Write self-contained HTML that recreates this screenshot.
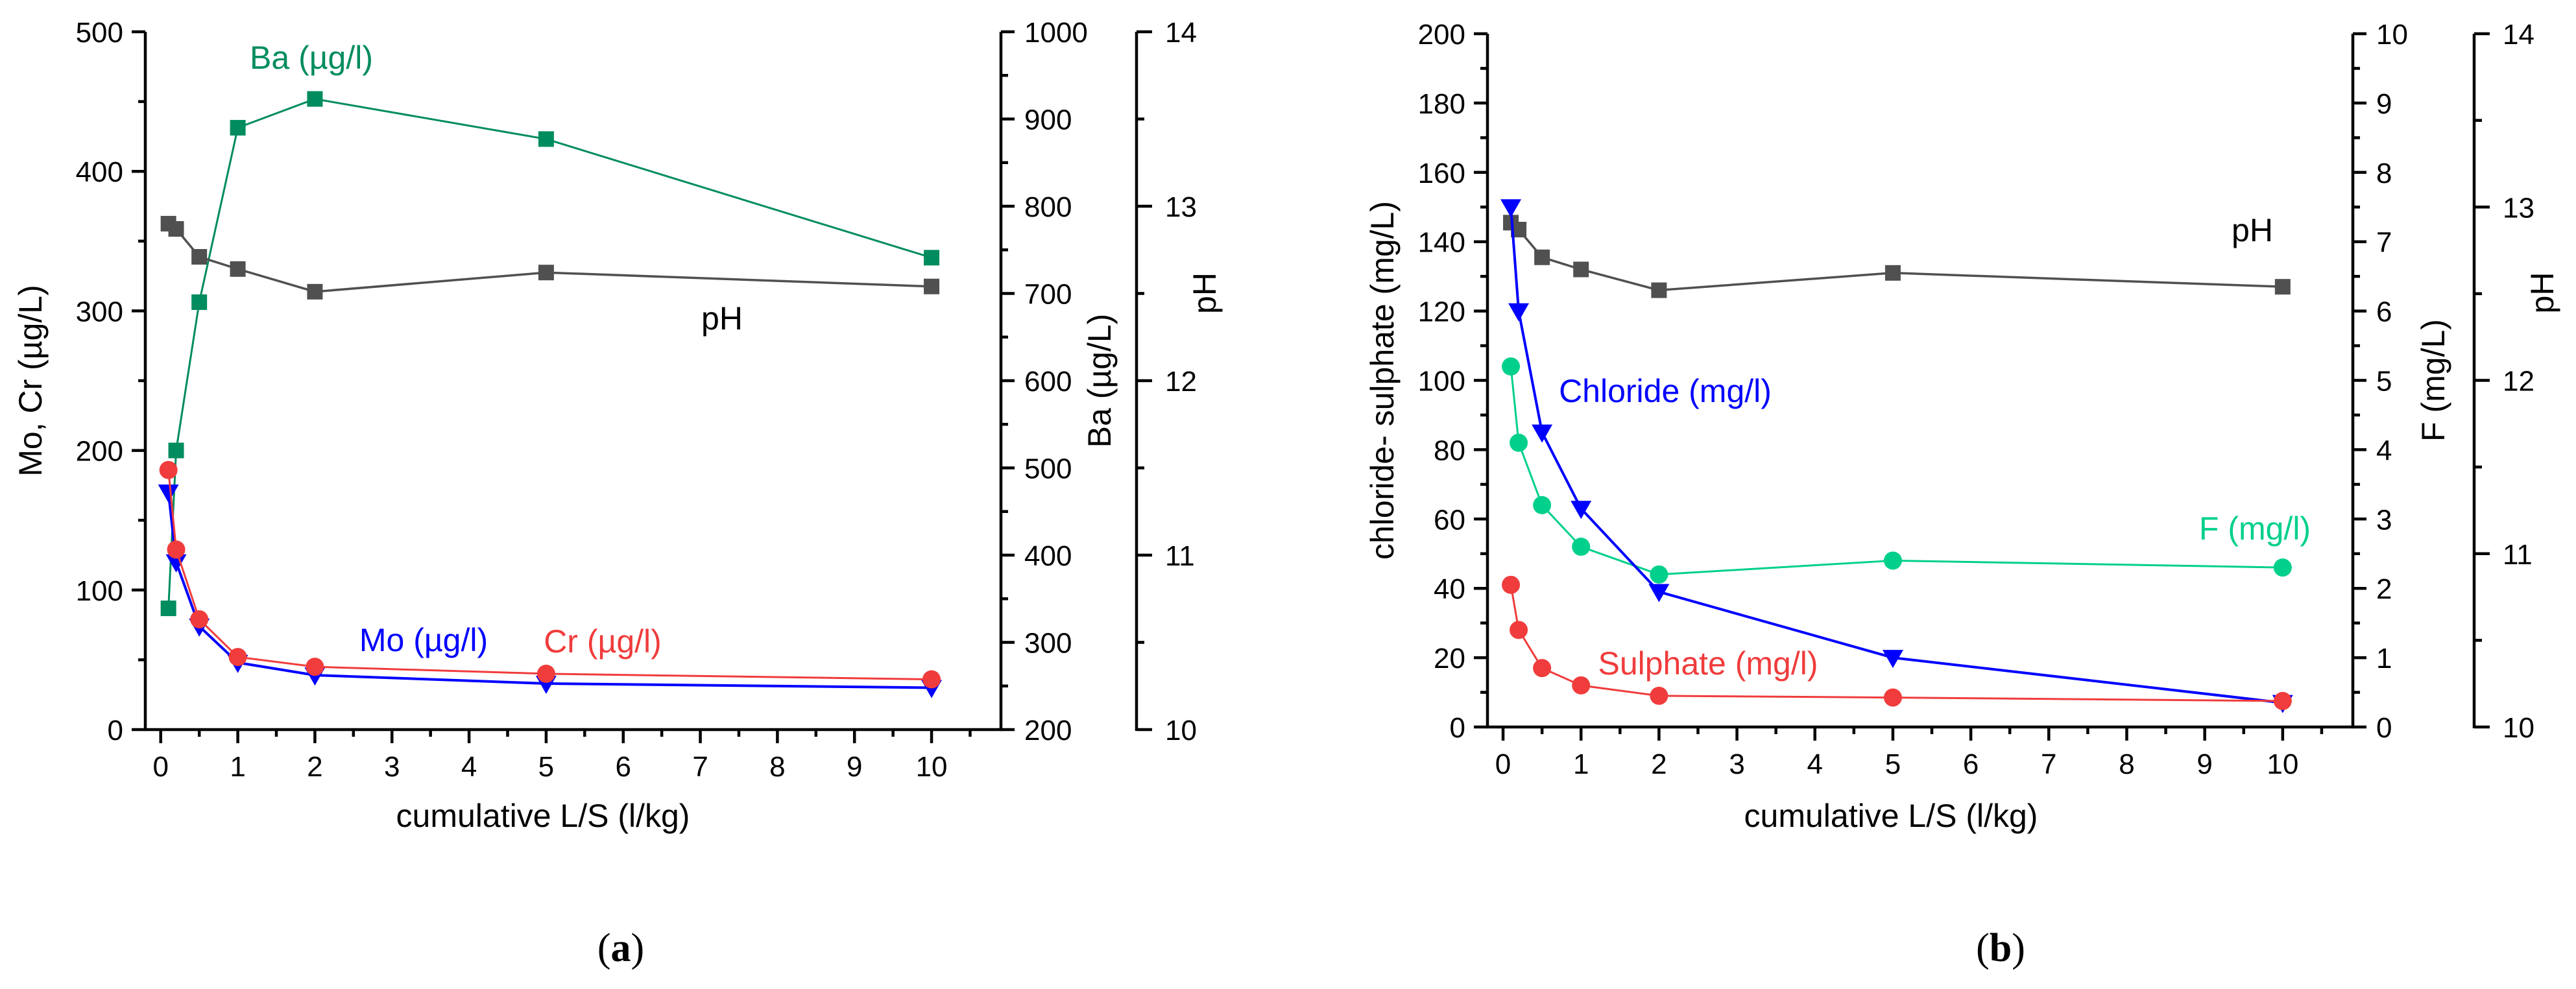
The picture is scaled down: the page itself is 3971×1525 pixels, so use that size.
<!DOCTYPE html>
<html><head><meta charset="utf-8"><style>
html,body{margin:0;padding:0;background:#fff;}
svg{display:block;font-family:"Liberation Sans",Arial,sans-serif;}
</style></head><body>
<svg id="chart" width="3971" height="1525" viewBox="0 0 3971 1525" xmlns="http://www.w3.org/2000/svg"></svg>
<script>
const lsValues = [0.1, 0.2, 0.5, 1, 2, 5, 10];
const xTickLabels = ["0","1","2","3","4","5","6","7","8","9","10"];
// panel a
const moValues = [170, 120, 74, 48, 39, 33, 30];
const crValues = [186, 129, 79, 52, 45, 40, 36];
const baValues = [339, 520, 690, 890, 923, 877, 741];
const phAValues = [12.90, 12.87, 12.71, 12.64, 12.51, 12.62, 12.54];
const leftATicks = ["0","100","200","300","400","500"];
const baTicks = ["200","300","400","500","600","700","800","900","1000"];
const phTicks = ["10","11","12","13","14"];
// panel b
const chlorideValues = [150, 120, 85, 63, 39, 20, 7];
const sulphateValues = [41, 28, 17, 12, 9, 8.5, 7.5];
const fValues = [5.2, 4.1, 3.2, 2.6, 2.2, 2.4, 2.3];
const phBValues = [12.91, 12.87, 12.71, 12.64, 12.52, 12.62, 12.54];
const leftBTicks = ["0","20","40","60","80","100","120","140","160","180","200"];
const fTicks = ["0","1","2","3","4","5","6","7","8","9","10"];

const svg = document.getElementById('chart');
const NS = 'http://www.w3.org/2000/svg';
function el(tag, attrs, parent) {
  const e = document.createElementNS(NS, tag);
  for (const k in attrs) e.setAttribute(k, attrs[k]);
  (parent || svg).appendChild(e);
  return e;
}
function txt(s, x, y, size, color, anchor, parent, extra) {
  const t = el('text', Object.assign({x: x, y: y, 'font-size': size, fill: color, 'text-anchor': anchor || 'middle'}, extra || {}), parent);
  t.textContent = s;
  return t;
}
function lin(a, b, p0, p1) { return v => p0 + (v - a) / (b - a) * (p1 - p0); }

function panel(cfg) {
  const g = el('g', {});
  
  
  const X = lin(-0.2, 10.9, cfg.x0, cfg.x1);
  const top = cfg.top, bot = cfg.bot;
  const xa = el('g', {}, g);
  
  
  el('line', {x1: cfg.x0 - 2, y1: bot, x2: cfg.x1 + 2, y2: bot, stroke: '#000', 'stroke-width': 4.5}, xa);
  for (let i = 0; i <= 21; i++) {
    const v = i * 0.5, major = i % 2 === 0;
    el('line', {x1: X(v), y1: bot, x2: X(v), y2: bot + (major ? 21 : 11), stroke: '#000', 'stroke-width': 4.5}, xa);
    if (major) txt(xTickLabels[i / 2], X(v), bot + 72, 44, '#000', 'middle', xa);
  }
  const xt = txt('cumulative L/S (l/kg)', cfg.xTitleX, 1275, 50, '#000', 'middle', g);
  
  
  const ly = lin(cfg.lMin, cfg.lMax, bot, top);
  const la = el('g', {}, g);
  
  
  el('line', {x1: cfg.x0, y1: top, x2: cfg.x0, y2: bot + 2, stroke: '#000', 'stroke-width': 4.5}, la);
  const nL = cfg.lTicks.length - 1, stepL = (cfg.lMax - cfg.lMin) / nL;
  for (let i = 0; i <= nL * 2; i++) {
    const v = cfg.lMin + i * stepL / 2, major = i % 2 === 0;
    el('line', {x1: cfg.x0, y1: ly(v), x2: cfg.x0 - (major ? 21 : 11), y2: ly(v), stroke: '#000', 'stroke-width': 4.5}, la);
    if (major) txt(cfg.lTicks[i / 2], cfg.x0 - 34, ly(v) + 16, 44, '#000', 'end', la);
  }
  const lt = txt(cfg.lTitle, 0, 0, 50, '#000', 'middle', g, {transform: `translate(${cfg.lTitleX},${(top + bot) / 2}) rotate(-90)`});
  
  
  const r1 = lin(cfg.r1Min, cfg.r1Max, bot, top);
  const ra = el('g', {}, g);
  
  
  el('line', {x1: cfg.x1, y1: top, x2: cfg.x1, y2: bot + 2, stroke: '#000', 'stroke-width': 4.5}, ra);
  const n1 = cfg.r1Ticks.length - 1, step1 = (cfg.r1Max - cfg.r1Min) / n1;
  for (let i = 0; i <= n1 * 2; i++) {
    const v = cfg.r1Min + i * step1 / 2, major = i % 2 === 0;
    el('line', {x1: cfg.x1, y1: r1(v), x2: cfg.x1 + (major ? 21 : 11), y2: r1(v), stroke: '#000', 'stroke-width': 4.5}, ra);
    if (major) txt(cfg.r1Ticks[i / 2], cfg.x1 + 36, r1(v) + 16, 44, '#000', 'start', ra);
  }
  const r1t = txt(cfg.r1Title, 0, 0, 50, '#000', 'middle', g, {transform: `translate(${cfg.r1TitleX},${(top + bot) / 2}) rotate(-90)`});
  
  
  const r2 = lin(10, 14, bot, top);
  const pa = el('g', {}, g);
  
  
  el('line', {x1: cfg.x2, y1: top, x2: cfg.x2, y2: bot + 2, stroke: '#000', 'stroke-width': 4.5}, pa);
  for (let i = 0; i <= 8; i++) {
    const v = 10 + i * 0.5, major = i % 2 === 0;
    el('line', {x1: cfg.x2, y1: r2(v), x2: cfg.x2 + (major ? 24 : 12), y2: r2(v), stroke: '#000', 'stroke-width': 4.5}, pa);
    if (major) txt(phTicks[i / 2], cfg.x2 + 44, r2(v) + 16, 44, '#000', 'start', pa);
  }
  const pt = txt('pH', 0, 0, 50, '#000', 'middle', g, {transform: `translate(${cfg.x2 + 122},${(top + bot) / 2 - 135}) rotate(-90)`});
  
  
  return {g, X, ly, r1, r2};
}

function series(g, name, xs, ys, X, Y, color, marker, lw) {
  const s = el('g', {}, g);
  
  
  el('polyline', {points: xs.map((x, i) => X(x) + ',' + Y(ys[i])).join(' '), fill: 'none', stroke: color, 'stroke-width': lw || 3}, s);
  xs.forEach((x, i) => {
    const cx = X(x), cy = Y(ys[i]);
    let m;
    if (marker === 'square') m = el('rect', {x: cx - 12, y: cy - 12, width: 24, height: 24, fill: color}, s);
    else if (marker === 'circle') m = el('circle', {cx: cx, cy: cy, r: 14, fill: color}, s);
    else m = el('polygon', {points: `${cx - 16},${cy - 12} ${cx + 16},${cy - 12} ${cx},${cy + 16}`, fill: color}, s);
    
    
  });
}
function label(g, s, x, y, color, name) {
  const t = txt(s, x, y, 50, color, 'middle', g);
  
  
}

const A = panel({name: 'panel-a', x0: 224, x1: 1543, x2: 1752, top: 49, bot: 1125,
  lMin: 0, lMax: 500, lTicks: leftATicks, lTitle: 'Mo, Cr (µg/L)', lTitleX: 64,
  r1Min: 200, r1Max: 1000, r1Ticks: baTicks, r1Title: 'Ba (µg/L)', r1TitleX: 1712, xTitleX: 837});
series(A.g, 'ba-series', lsValues, baValues, A.X, A.r1, '#008c5f', 'square', 3);
series(A.g, 'ph-series-a', lsValues, phAValues, A.X, A.r2, '#505050', 'square', 3.5);
series(A.g, 'mo-series', lsValues, moValues, A.X, A.ly, '#0000ff', 'triangle', 4);
series(A.g, 'cr-series', lsValues, crValues, A.X, A.ly, '#f03c3c', 'circle', 3);
label(A.g, 'Ba (µg/l)', 480, 106, '#008c5f', 'ba-label');
label(A.g, 'pH', 1113, 508, '#000', 'ph-label-a');
label(A.g, 'Mo (µg/l)', 653, 1004, '#0000ff', 'mo-label');
label(A.g, 'Cr (µg/l)', 929, 1006, '#f03c3c', 'cr-label');
const ta = txt('(a)', 957, 1482, 62, '#000', 'middle', A.g, {'font-family': '"Liberation Serif",serif'});



const B = panel({name: 'panel-b', x0: 2293, x1: 3627, x2: 3814, top: 52, bot: 1121,
  lMin: 0, lMax: 200, lTicks: leftBTicks, lTitle: 'chloride- sulphate (mg/L)', lTitleX: 2148,
  r1Min: 0, r1Max: 10, r1Ticks: fTicks, r1Title: 'F (mg/L)', r1TitleX: 3768, xTitleX: 2915});
series(B.g, 'ph-series-b', lsValues, phBValues, B.X, B.r2, '#505050', 'square', 3.5);
series(B.g, 'f-series', lsValues, fValues, B.X, B.r1, '#00d08c', 'circle', 3);
series(B.g, 'chloride-series', lsValues, chlorideValues, B.X, B.ly, '#0000ff', 'triangle', 4);
series(B.g, 'sulphate-series', lsValues, sulphateValues, B.X, B.ly, '#f03c3c', 'circle', 3);
label(B.g, 'pH', 3472, 372, '#000', 'ph-label-b');
label(B.g, 'Chloride (mg/l)', 2567, 620, '#0000ff', 'chloride-label');
label(B.g, 'F (mg/l)', 3476, 832, '#00d08c', 'f-label');
label(B.g, 'Sulphate (mg/l)', 2633, 1040, '#f03c3c', 'sulphate-label');
const tb = txt('(b)', 3084, 1482, 62, '#000', 'middle', B.g, {'font-family': '"Liberation Serif",serif'});


[ta, tb].forEach(t => {
  const s = t.textContent; t.textContent = '';
  const a = el('tspan', {}, t); a.textContent = '(';
  const b = el('tspan', {'font-weight': 'bold'}, t); b.textContent = s[1];
  const c = el('tspan', {}, t); c.textContent = ')';
});
</script>
</body></html>
